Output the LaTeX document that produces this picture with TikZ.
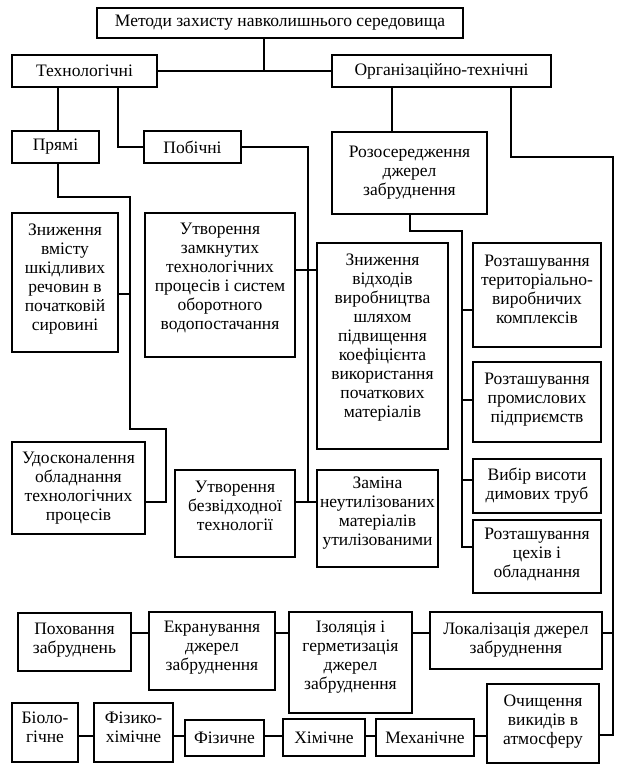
\documentclass[tikz,border=0pt]{standalone}
\usepackage{fontspec}
\setmainfont{Liberation Serif}

\begin{document}
\begin{tikzpicture}[x=1pt, y=-1pt, line width=1.2pt,
  box/.style={draw, inner sep=0pt},
  txt/.style={align=center, inner sep=0pt, font=\fontsize{17.5}{19}\selectfont}]
  \useasboundingbox (0,0) rectangle (622,768);

  % Top level and the two main groups
  \node[box, minimum width=366, minimum height=30, label={[txt]center:{Методи захисту навколишнього середовища}}] (meth) at (280,23) {};
  \node[box, minimum width=145, minimum height=32, label={[txt]center:{Технологічні}}] (tech) at (84.5,71) {};
  \node[box, minimum width=219, minimum height=32, label={[txt]center:{Організаційно-технічні}}] (org) at (441.5,71) {};

  % Technological branch
  \node[box, minimum width=87, minimum height=32, label={[txt]center:{Прямі}}] (pryami) at (55.5,147) {};
  \node[box, minimum width=97, minimum height=32, label={[txt]center:{Побічні}}] (pobichni) at (192.5,147) {};
  \node[box, minimum width=106, minimum height=139,
    label={[txt, yshift=3]center:{Зниження\\вмісту\\шкідливих\\речовин в\\початковій\\сировині}}] (znyzh) at (65,282.5) {};
  \node[box, minimum width=150, minimum height=144,
    label={[txt, yshift=7]center:{Утворення\\замкнутих\\технологічних\\процесів і систем\\оборотного\\водопостачання}}] (zamk) at (220,285) {};
  \node[box, minimum width=131, minimum height=206,
    label={[txt, yshift=8]center:{Зниження\\відходів\\виробництва\\шляхом\\підвищення\\коефіцієнта\\використання\\початкових\\матеріалів}}] (vidh) at (382.5,346) {};
  \node[box, minimum width=133, minimum height=92,
    label={[txt]center:{Удосконалення\\обладнання\\технологічних\\процесів}}] (udosk) at (78.5,488) {};
  \node[box, minimum width=120, minimum height=87,
    label={[txt, yshift=8]center:{Утворення\\безвідходної\\технології}}] (bezv) at (235,513.5) {};
  \node[box, minimum width=121, minimum height=97,
    label={[txt, yshift=5]center:{Заміна\\неутилізованих\\матеріалів\\утилізованими}}] (zamina) at (377.5,518.5) {};

  % Organisational branch
  \node[box, minimum width=155, minimum height=82,
    label={[txt]center:{Розосередження\\джерел\\забруднення}}] (rozos) at (409.5,173) {};
  \node[box, minimum width=128, minimum height=104,
    label={[txt, yshift=6]center:{Розташування\\територіально-\\виробничих\\комплексів}}] (teritor) at (537,295) {};
  \node[box, minimum width=128, minimum height=80,
    label={[txt, yshift=2]center:{Розташування\\промислових\\підприємств}}] (prom) at (537,402) {};
  \node[box, minimum width=128, minimum height=54,
    label={[txt]center:{Вибір висоти\\димових труб}}] (vybir) at (537,486) {};
  \node[box, minimum width=128, minimum height=73,
    label={[txt, yshift=2]center:{Розташування\\цехів і\\обладнання}}] (cehiv) at (537,556.5) {};

  % Localisation row
  \node[box, minimum width=113, minimum height=58,
    label={[txt, yshift=2]center:{Поховання\\забруднень}}] (pohov) at (74.5,642) {};
  \node[box, minimum width=126, minimum height=78,
    label={[txt, yshift=3]center:{Екранування\\джерел\\забруднення}}] (ekran) at (212,651) {};
  \node[box, minimum width=123, minimum height=101,
    label={[txt, yshift=5]center:{Ізоляція і\\герметизація\\джерел\\забруднення}}] (izol) at (350.5,662.5) {};
  \node[box, minimum width=172, minimum height=57,
    label={[txt]center:{Локалізація джерел\\забруднення}}] (lokal) at (516,640.5) {};

  % Cleaning row
  \node[box, minimum width=112, minimum height=79,
    label={[txt, yshift=2]center:{Очищення\\викидів в\\атмосферу}}] (ochysh) at (543,723.5) {};
  \node[box, minimum width=66, minimum height=59, label={[txt, yshift=5]center:{Біоло-\\гічне}}] (bio) at (45,732.5) {};
  \node[box, minimum width=79, minimum height=59, label={[txt, yshift=5]center:{Фізико-\\хімічне}}] (fizhim) at (133.5,732.5) {};
  \node[box, minimum width=79, minimum height=36, label={[txt]center:{Фізичне}}] (fiz) at (224.5,738) {};
  \node[box, minimum width=82, minimum height=37, label={[txt]center:{Хімічне}}] (him) at (324,737.5) {};
  \node[box, minimum width=98, minimum height=37, label={[txt]center:{Механічне}}] (meh) at (425,737.5) {};

  % Top connectors
  \draw (tech.east) -- (org.west);
  \draw (264,0 |- meth.south) -- (264,0 |- tech.east);
  \draw (58,0 |- tech.south) -- (58,0 |- pryami.north);
  \draw (118,0 |- tech.south) |- (pobichni.west);

  % Direct methods
  \draw (58,0 |- pryami.south) |- (130,197) |- (166,429) |- (udosk.east |- 0,502);
  \draw (znyzh.east |- 0,294) -- (130,294);

  % Side methods
  \draw (pobichni.east) -| (308,502);
  \draw (zamk.east |- 0,270) -- (vidh.west |- 0,270);
  \draw (bezv.east |- 0,502) -- (zamina.west |- 0,502);

  % Dispersal of sources
  \draw (392,0 |- org.south) -- (392,0 |- rozos.north);
  \draw (410,0 |- rozos.south) |- (462,231) |- (cehiv.west |- 0,547);
  \foreach \n/\y in {teritor/310, prom/400, vybir/480}
    \draw (462,\y) -- (\n.west |- 0,\y);

  % Long line to localisation and cleaning
  \draw (511,0 |- org.south) |- (613,157) |- (ochysh.east |- 0,735);
  \draw (613,633) -- (lokal.east |- 0,633);
  \foreach \a/\b in {pohov/ekran, ekran/izol, izol/lokal}
    \draw (\a.east |- 0,633) -- (\b.west |- 0,633);
  \foreach \a/\b in {bio/fizhim, fizhim/fiz, fiz/him, him/meh, meh/ochysh}
    \draw (\a.east |- 0,736) -- (\b.west |- 0,736);
\end{tikzpicture}
\end{document}
